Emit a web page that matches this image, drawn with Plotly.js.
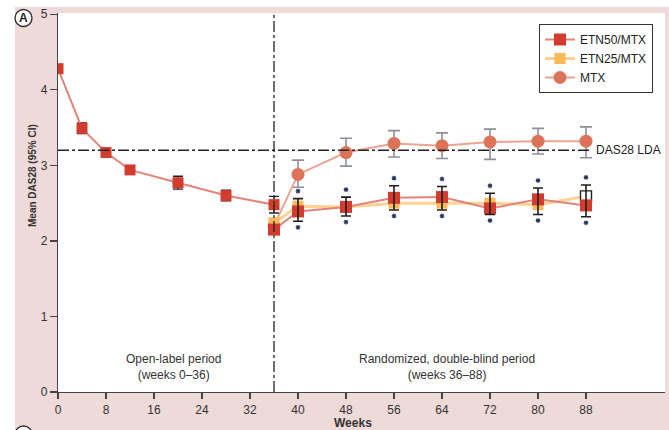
<!DOCTYPE html>
<html>
<head>
<meta charset="utf-8">
<script src="https://cdn.plot.ly/plotly-3.0.1.min.js"></script>
<style>html,body{margin:0;padding:0;background:#fff;}#chart{width:669px;height:430px;}</style>
</head>
<body>
<div id="chart"></div>
<script>
// ---------- data ----------
const weeksOpen = [0, 4, 8, 12, 20, 28, 36];
const openLabel = [4.28, 3.49, 3.17, 2.94, 2.77, 2.60, 2.48];
const openLabelErr = [null, 0.07, null, null, 0.085, 0.07, 0.11];

const weeksRand = [36, 40, 48, 56, 64, 72, 80, 88];
const etn50 = [2.15, 2.39, 2.45, 2.57, 2.58, 2.43, 2.55, 2.47];
const etn50Hi = [null, 2.56, 2.58, 2.73, 2.72, 2.63, 2.70, 2.74];
const etn50Lo = [null, 2.26, 2.33, 2.41, 2.41, 2.35, 2.35, 2.32];
const etn25 = [2.24, 2.46, 2.45, 2.50, 2.50, 2.50, 2.48, 2.59];
const mtx = [2.20, 2.88, 3.17, 3.29, 3.26, 3.31, 3.32, 3.32];
const mtxHi = [null, 3.07, 3.36, 3.46, 3.43, 3.48, 3.49, 3.51];
const mtxLo = [null, 2.71, 2.99, 3.11, 3.09, 3.08, 3.15, 3.10];
const significant = [false, true, true, true, true, true, true, true];

const seriesNames = ['ETN50/MTX', 'ETN25/MTX', 'MTX'];
const xTickVals = [0, 8, 16, 24, 32, 40, 48, 56, 64, 72, 80, 88];
const yTickVals = [0, 1, 2, 3, 4, 5];
const ldaValue = 3.2;
const ldaLabel = 'DAS28 LDA';
const randomWeek = 36;
const periodLabels = ['Open-label period<br>(weeks 0–36)', 'Randomized, double-blind period<br>(weeks 36–88)'];
const xTitle = 'Weeks';
const yTitle = 'Mean DAS28 (95% CI)';
const panelLabel = 'A';

// ---------- styles ----------
const RED = '#d23c2f', RED_LINE = '#e4837a';
const YEL = '#fbb95a', YEL_LINE = '#fdd393';
const MTXC = '#dd7358', MTX_LINE = '#eca391';
const STAR = '#24345a';
const PINK = '#eedad8';
const FONT = 'Liberation Sans, Arial, sans-serif';

const W = 669, H = 430, M = {l: 58, r: 4, t: 13, b: 38};
const pw = W - M.l - M.r, ph = H - M.t - M.b;
const px2x = p => (p - M.l) / pw;
const px2y = p => (H - M.b - p) / ph;

const up = (hi, v) => hi.map((h, i) => h == null ? NaN : h - v[i]);
const dn = (lo, v) => lo.map((l, i) => l == null ? NaN : v[i] - l);

// star positions derived from the ETN50 confidence limits
const starX = [], starY = [];
weeksRand.forEach((w, i) => {
  if (significant[i]) {
    starX.push(w, w);
    starY.push(etn50Hi[i] + 0.10, etn50Lo[i] - 0.08);
  }
});

const last = etn25.length - 1;
const e25Fill = etn25.map((v, i) => i === last ? '#ffffff' : YEL);
const e25LineC = etn25.map((v, i) => i === last ? '#222222' : YEL);
const e25LineW = etn25.map((v, i) => i === last ? 1.4 : 0);

const traces = [
  { // MTX
    x: weeksRand, y: mtx, name: seriesNames[2], legendrank: 3,
    mode: 'lines+markers', type: 'scatter',
    line: {color: MTX_LINE, width: 2},
    marker: {symbol: 'circle', size: 13, color: MTXC},
    error_y: {type: 'data', symmetric: false, array: up(mtxHi, mtx), arrayminus: dn(mtxLo, mtx),
              color: '#8d909a', thickness: 1.6, width: 6}
  },
  { // ETN25
    x: weeksRand, y: etn25, name: seriesNames[1], legendrank: 2,
    mode: 'lines+markers', type: 'scatter',
    line: {color: YEL_LINE, width: 3},
    marker: {symbol: 'square', size: 11, color: e25Fill, line: {color: e25LineC, width: e25LineW}}
  },
  { // open label (all patients on ETN50/MTX)
    x: weeksOpen, y: openLabel, name: seriesNames[0], showlegend: false,
    mode: 'lines+markers', type: 'scatter',
    line: {color: RED_LINE, width: 2},
    marker: {symbol: 'square', size: 11, color: RED},
    error_y: {type: 'data', array: openLabelErr.map(e => e == null ? NaN : e),
              color: '#222', thickness: 1.4, width: 5}
  },
  { // ETN50 randomized
    x: weeksRand, y: etn50, name: seriesNames[0], legendrank: 1,
    mode: 'lines+markers', type: 'scatter',
    line: {color: RED_LINE, width: 2},
    marker: {symbol: 'square', size: 12, color: RED}
  },
  { // ETN50 CI drawn on top
    x: weeksRand, y: etn50, showlegend: false, hoverinfo: 'skip',
    mode: 'markers', type: 'scatter',
    marker: {size: 1, color: 'rgba(0,0,0,0)'},
    error_y: {type: 'data', symmetric: false, array: up(etn50Hi, etn50), arrayminus: dn(etn50Lo, etn50),
              color: '#1e1e1e', thickness: 1.6, width: 5}
  },
  { // significance stars
    x: starX, y: starY, showlegend: false, hoverinfo: 'skip',
    mode: 'markers', type: 'scatter',
    marker: {symbol: 'asterisk-open', size: 4, color: STAR, line: {color: STAR, width: 1.1}}
  }
];

const layout = {
  width: W, height: H,
  margin: M,
  paper_bgcolor: PINK,
  plot_bgcolor: '#ffffff',
  font: {family: FONT, size: 12, color: '#333'},
  showlegend: true,
  legend: {
    x: px2x(539), y: px2y(24), xanchor: 'left', yanchor: 'top',
    bgcolor: '#ffffff', bordercolor: '#333', borderwidth: 1,
    font: {family: FONT, size: 12, color: '#222'},
    tracegroupgap: 0, itemwidth: 30
  },
  xaxis: {
    range: [0, pw / 6], tickmode: 'array', tickvals: xTickVals, ticktext: xTickVals.map(String),
    showline: true, linecolor: '#444', linewidth: 1.2,
    ticks: 'outside', ticklen: 6, tickwidth: 1.2, tickcolor: '#444',
    showgrid: false, zeroline: false,
    tickfont: {family: FONT, size: 12, color: '#333'}
  },
  yaxis: {
    range: [0, 5.017], tickmode: 'array', tickvals: yTickVals, ticktext: yTickVals.map(String),
    showline: true, linecolor: '#444', linewidth: 1.2,
    ticks: 'outside', ticklen: 7, tickwidth: 1.2, tickcolor: '#444',
    showgrid: false, zeroline: false,
    tickfont: {family: FONT, size: 12, color: '#333'}
  },
  shapes: [
    {type: 'rect', xref: 'paper', yref: 'paper', x0: px2x(0), x1: px2x(15), y0: px2y(H), y1: px2y(0),
     fillcolor: '#fff', line: {width: 0}},
    {type: 'rect', xref: 'paper', yref: 'paper', x0: px2x(0), x1: px2x(W), y0: px2y(7), y1: px2y(0),
     fillcolor: '#fff', line: {width: 0}},
    {type: 'line', xref: 'paper', yref: 'y', x0: 0, x1: px2x(592), y0: ldaValue, y1: ldaValue,
     line: {color: '#222', width: 1.3, dash: '11px,3px,3px,3px'}},
    {type: 'line', xref: 'x', yref: 'paper', x0: randomWeek, x1: randomWeek, y0: 0, y1: 1,
     line: {color: '#222', width: 1.3, dash: '11px,3px,3px,3px'}},
    {type: 'circle', xref: 'paper', yref: 'paper', x0: px2x(15), x1: px2x(32), y0: px2y(26.5), y1: px2y(9.5),
     fillcolor: '#fff', line: {color: '#333', width: 1.4}},
    {type: 'circle', xref: 'paper', yref: 'paper', x0: px2x(15), x1: px2x(32), y0: px2y(443), y1: px2y(426),
     fillcolor: '#fff', line: {color: '#333', width: 1.4}}
  ],
  annotations: [
    {text: periodLabels[0], xref: 'paper', yref: 'paper', x: px2x(173), y: px2y(367),
     xanchor: 'center', yanchor: 'middle', showarrow: false, font: {family: FONT, size: 12, color: '#333'}},
    {text: periodLabels[1], xref: 'paper', yref: 'paper', x: px2x(447), y: px2y(367),
     xanchor: 'center', yanchor: 'middle', showarrow: false, font: {family: FONT, size: 12, color: '#333'}},
    {text: ldaLabel, xref: 'paper', yref: 'y', x: px2x(594), y: ldaValue,
     xanchor: 'left', yanchor: 'middle', showarrow: false, font: {family: FONT, size: 12, color: '#222'}},
    {text: '<b>' + panelLabel + '</b>', xref: 'paper', yref: 'paper', x: px2x(23.5), y: px2y(18),
     xanchor: 'center', yanchor: 'middle', showarrow: false, font: {family: FONT, size: 12, color: '#222'}},
    {text: '<b>' + yTitle + '</b>', xref: 'paper', yref: 'paper', x: px2x(32), y: px2y(175), textangle: -90,
     xanchor: 'center', yanchor: 'middle', showarrow: false, font: {family: FONT, size: 10, color: '#333'}},
    {text: '<b>' + xTitle + '</b>', xref: 'paper', yref: 'paper', x: px2x(353), y: px2y(423),
     xanchor: 'center', yanchor: 'middle', showarrow: false, font: {family: FONT, size: 12, color: '#333'}}
  ]
};

Plotly.newPlot('chart', traces, layout, {displayModeBar: false, staticPlot: true});
</script>
</body>
</html>
